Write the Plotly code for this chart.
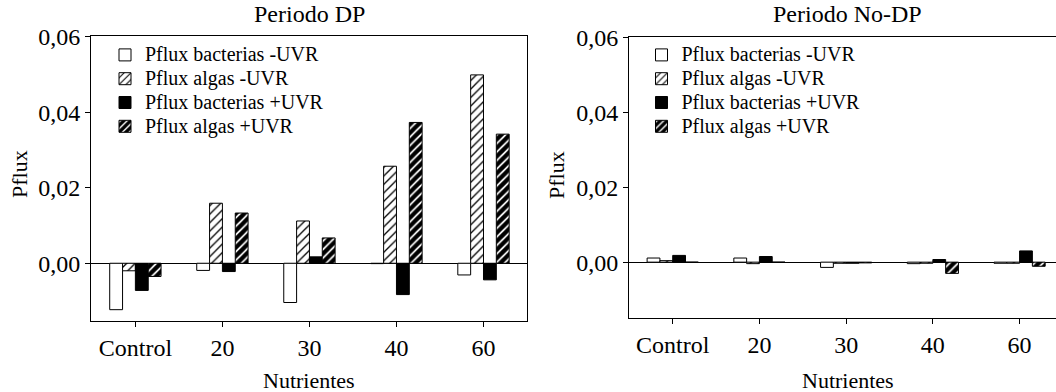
import plotly.graph_objects as go

# Nutrient treatments (x categories)
categories = ["Control", "20", "30", "40", "60"]

# Periodo DP
dp_bact_minus = [-0.0123, -0.0019, -0.0104, -0.0001, -0.0031]
dp_algas_minus = [-0.0020, 0.0159, 0.0112, 0.0257, 0.0499]
dp_bact_plus = [-0.0072, -0.0022, 0.0017, -0.0083, -0.0044]
dp_algas_plus = [-0.0035, 0.0133, 0.0067, 0.0373, 0.0342]

# Periodo No-DP
nodp_bact_minus = [0.0011, 0.0011, -0.0014, -0.0004, -0.0003]
nodp_algas_minus = [0.0004, -0.0004, -0.0003, -0.0003, -0.0003]
nodp_bact_plus = [0.0018, 0.0015, -0.0003, 0.0007, 0.0030]
nodp_algas_plus = [0.0000, 0.0000, -0.0002, -0.0030, -0.0011]

series_names = [
    "Pflux bacterias -UVR",
    "Pflux algas -UVR",
    "Pflux bacterias +UVR",
    "Pflux algas +UVR",
]

# significance marks above the algas -UVR bars of the DP period
sig_categories = ["30", "60"]
sig_labels = ["**", "*"]

FONT = "Liberation Serif"
W, H = 1056, 392

styles = [
    dict(color="white", pattern=dict(shape="")),
    dict(color="white", pattern=dict(shape="/", fgcolor="black", bgcolor="white",
                                     size=6, solidity=0.22, fillmode="replace")),
    dict(color="black", pattern=dict(shape="")),
    dict(color="black", pattern=dict(shape="/", fgcolor="black", bgcolor="white",
                                     size=6, solidity=0.7, fillmode="replace")),
]

fig = go.Figure()

panels = [
    ("x", "y", "legend", [dp_bact_minus, dp_algas_minus, dp_bact_plus, dp_algas_plus]),
    ("x2", "y2", "legend2", [nodp_bact_minus, nodp_algas_minus, nodp_bact_plus, nodp_algas_plus]),
]
for xa, ya, lg, data in panels:
    for name, vals, st in zip(series_names, data, styles):
        fig.add_trace(go.Bar(
            x=categories, y=vals, xaxis=xa, yaxis=ya, legend=lg,
            # legend rows are spaced from the legend font; the label itself is larger
            name=f"<span style='font-size:20px'>{name}</span>",
            marker=dict(color=st["color"], pattern=st["pattern"],
                        line=dict(color="black", width=1)),
        ))


def px_x(p):
    return p / W


def px_y(p):
    return (H - p) / H


axis_common = dict(
    showline=True, linecolor="black", linewidth=1,
    ticks="outside", ticklen=5, tickwidth=1, tickcolor="black",
    showgrid=False, automargin=False,
    tickfont=dict(family=FONT, size=24, color="black"),
)

yticks = [0.0, 0.02, 0.04, 0.06]

legend_common = dict(
    xanchor="left", yanchor="top", bgcolor="rgba(0,0,0,0)",
    font=dict(family=FONT, size=16, color="black"),
    tracegroupgap=0, itemclick=False,
)

fig.update_layout(
    width=W, height=H,
    margin=dict(l=0, r=0, t=0, b=0),
    paper_bgcolor="white", plot_bgcolor="white",
    separators=",.",
    barmode="group", bargap=0.41, bargroupgap=0,
    font=dict(family=FONT, color="black"),
    xaxis=dict(axis_common, mirror=True, type="category",
               domain=[px_x(91), px_x(527)], range=[-0.51, 4.5], anchor="y"),
    yaxis=dict(axis_common, mirror=True, domain=[px_y(321), px_y(36)],
               range=[-0.0153, 0.0602], tickvals=yticks, tickformat=".2f", anchor="x",
               zeroline=True, zerolinecolor="black", zerolinewidth=1),
    xaxis2=dict(axis_common, mirror=True, type="category",
                domain=[px_x(629), 1.0], range=[-0.504, 4.42], anchor="y2"),
    yaxis2=dict(axis_common, mirror=False, domain=[px_y(318), px_y(36.5)],
                range=[-0.0149, 0.0602], tickvals=yticks, tickformat=".2f", anchor="x2",
                zeroline=True, zerolinecolor="black", zerolinewidth=1),
    legend=dict(legend_common, x=px_x(105), y=px_y(38)),
    legend2=dict(legend_common, x=px_x(641.5), y=px_y(38)),
    showlegend=True,
)

text_font = dict(family=FONT, size=22, color="black")
title_font = dict(family=FONT, size=24, color="black")
annotations = [
    dict(text="Periodo DP", x=px_x(309), y=px_y(14), xref="paper", yref="paper",
         xanchor="center", yanchor="middle", showarrow=False, font=title_font),
    dict(text="Periodo No-DP", x=px_x(847.5), y=px_y(14), xref="paper", yref="paper",
         xanchor="center", yanchor="middle", showarrow=False, font=title_font),
    dict(text="Nutrientes", x=px_x(309), y=px_y(380), xref="paper", yref="paper",
         xanchor="center", yanchor="middle", showarrow=False, font=text_font),
    dict(text="Nutrientes", x=px_x(847.5), y=px_y(380), xref="paper", yref="paper",
         xanchor="center", yanchor="middle", showarrow=False, font=text_font),
    dict(text="Pflux", x=px_x(19), y=px_y(174), xref="paper", yref="paper",
         xanchor="center", yanchor="middle", textangle=-90, showarrow=False, font=text_font),
    dict(text="Pflux", x=px_x(556), y=px_y(175), xref="paper", yref="paper",
         xanchor="center", yanchor="middle", textangle=-90, showarrow=False, font=text_font),
]
shifts = {"30": -16, "60": -19}
for cat, lab in zip(sig_categories, sig_labels):
    idx = categories.index(cat)
    annotations.append(dict(
        text=lab, x=cat, y=dp_algas_minus[idx], xref="x", yref="y",
        xanchor="center", yanchor="bottom", xshift=shifts[cat], yshift=-2,
        showarrow=False, font=dict(family=FONT, size=20, color="black"),
    ))
fig.update_layout(annotations=annotations)

fig.write_html("out.html")
